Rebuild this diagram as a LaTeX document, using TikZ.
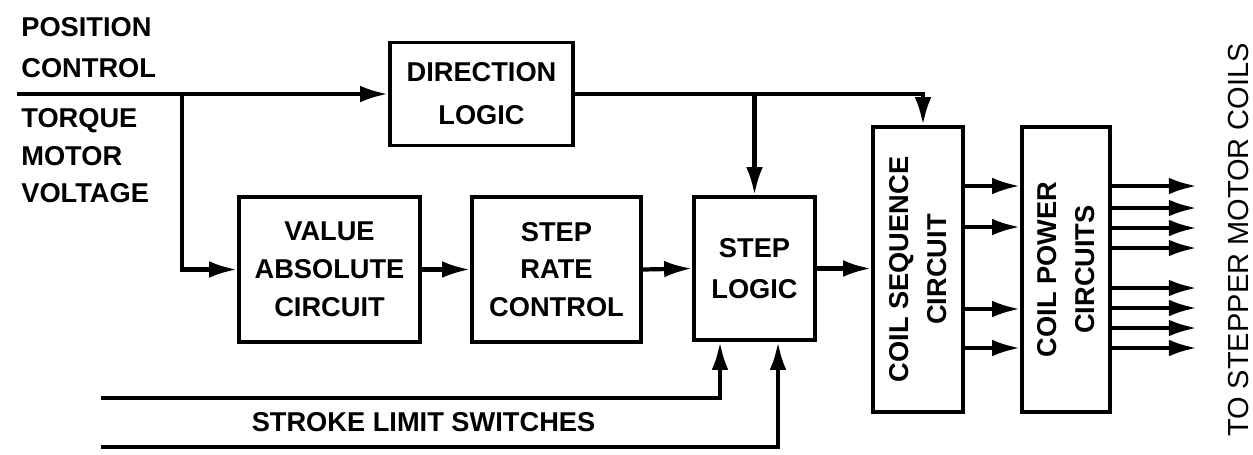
\documentclass[tikz,border=0pt]{standalone}
\usepackage{fontspec}
\setmainfont{Liberation Sans}
\usetikzlibrary{arrows.meta,positioning}

\begin{document}
\begin{tikzpicture}[x=1cm,y=1cm,
  blk/.style={draw,line width=2pt,align=center,inner sep=0pt,
    font=\bfseries\fontsize{15.5}{21.5}\selectfont},
  lbl/.style={inner sep=0pt,font=\bfseries\fontsize{15.5}{21.5}\selectfont},
  sig/.style={line width=2.4pt,-{Latex[length=16pt,width=9.5pt]}}]
  \useasboundingbox (0,0) rectangle (25.06,-9.08);
  % input labels
  \node[lbl,align=left,anchor=north west] (posctl) at (0.42,-0.34) {POSITION\\[2pt]CONTROL};
  \node[lbl,align=left,anchor=north west] (torque) at (0.42,-2.16) {TORQUE\\MOTOR\\VOLTAGE};
  % blocks
  \node[blk,minimum width=3.66cm,minimum height=2.06cm] (dirlogic) at (9.63,-1.88) {DIRECTION\\[3pt]LOGIC};
  \node[blk,minimum width=3.62cm,minimum height=2.90cm] (absval) at (6.59,-5.39) {VALUE\\ABSOLUTE\\CIRCUIT};
  \node[blk,minimum width=3.38cm,minimum height=2.90cm] (steprate) at (11.13,-5.39) {STEP\\RATE\\CONTROL};
  \node[blk,minimum width=2.42cm,minimum height=2.86cm] (steplogic) at (15.09,-5.37) {STEP\\[2pt]LOGIC};
  \node[blk,minimum width=1.80cm,minimum height=5.70cm] (coilseq) at (18.36,-5.39) {};
  \node[blk,minimum width=1.76cm,minimum height=5.70cm] (coilpow) at (21.32,-5.39) {};
  \node[lbl,rotate=90,align=center] (coilseqtxt) at (coilseq) {COIL SEQUENCE\\CIRCUIT};
  \node[lbl,rotate=90,align=center] (coilpowtxt) at (coilpow) {COIL POWER\\CIRCUITS};
  % input line and tap to the rectifier
  \coordinate (inp) at (0.34,-1.88);
  \coordinate (tap) at (3.64,-1.88);
  \draw[sig] (inp) -- (dirlogic.west);
  \draw[sig] (tap) |- (absval.west);
  % direction logic feeds step logic and coil sequence
  \draw[sig] (dirlogic.east) -| ([xshift=0.1cm]coilseq.north);
  \draw[sig] (dirlogic.east -| steplogic.north) -- (steplogic.north);
  % main chain
  \draw[sig] (absval.east) -- (steprate.west);
  \draw[sig] (steprate.east) -- (steplogic.west);
  \draw[sig] (steplogic.east) -- (steplogic.east -| coilseq.west);
  \foreach \dy in {1.67,0.85,-0.79,-1.57}
    \draw[sig] ([yshift=\dy cm]coilseq.east) -- ([yshift=\dy cm]coilseq.east -| coilpow.west);
  % outputs to the motor coils
  \foreach \dy [count=\i] in {1.67,1.23,0.83,0.43,-0.37,-0.77,-1.17,-1.57} {
    \coordinate (coil\i) at (23.94,{-5.39+\dy});
    \draw[sig] (coil\i -| coilpow.east) -- (coil\i);
  }
  \node[rotate=90,anchor=south,inner sep=0pt,text depth=0pt,
    font=\fontsize{16.5}{20}\selectfont] (tomotor) at (24.98,-4.8) {TO STEPPER MOTOR COILS};
  % stroke limit switch inputs
  \coordinate (lim1) at (2.02,-7.96);
  \coordinate (lim2) at (2.02,-8.94);
  \draw[sig] (lim1) -| ([xshift=-0.69cm]steplogic.south);
  \draw[sig] (lim2) -| ([xshift=0.47cm]steplogic.south);
  \node[lbl] (limsw) at (8.47,-8.44) {STROKE LIMIT SWITCHES};
\end{tikzpicture}
\end{document}
